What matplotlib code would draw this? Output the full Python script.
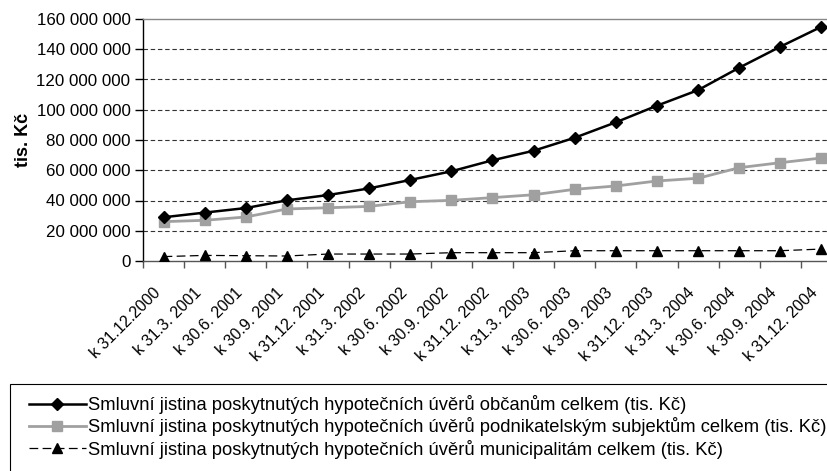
import matplotlib.pyplot as plt
from matplotlib.patches import Rectangle
from matplotlib.ticker import FuncFormatter, FixedLocator
from matplotlib.transforms import ScaledTranslation

plt.rcParams['font.family'] = ['Liberation Sans', 'DejaVu Sans']

# Data (tis. Kč)
dates = ['k 31.12.2000', 'k 31.3. 2001', 'k 30.6. 2001', 'k 30.9. 2001',
         'k 31.12. 2001', 'k 31.3. 2002', 'k 30.6. 2002', 'k 30.9. 2002',
         'k 31.12. 2002', 'k 31.3. 2003', 'k 30.6. 2003', 'k 30.9. 2003',
         'k 31.12. 2003', 'k 31.3. 2004', 'k 30.6. 2004', 'k 30.9. 2004',
         'k 31.12. 2004']
obcane = [28.9, 32.0, 35.0, 40.1, 43.6, 48.0, 53.6, 59.3, 66.6, 72.9,
          81.5, 91.7, 102.7, 113.0, 127.8, 141.7, 154.9]
podnikatele = [26.0, 26.9, 29.1, 34.4, 35.2, 36.1, 39.2, 40.1, 41.9, 43.8,
               47.4, 49.6, 52.9, 54.7, 61.7, 65.0, 68.1]
municipality = [2.9, 3.7, 3.5, 3.3, 4.6, 4.6, 4.6, 5.5, 5.5, 5.5,
                6.8, 6.8, 6.8, 6.8, 6.8, 6.8, 7.9]
labels = ['Smluvní jistina poskytnutých hypotečních úvěrů občanům celkem (tis. Kč)',
          'Smluvní jistina poskytnutých hypotečních úvěrů podnikatelským subjektům celkem (tis. Kč)',
          'Smluvní jistina poskytnutých hypotečních úvěrů municipalitám celkem (tis. Kč)']


def fmt(v, pos):
    return '{:,.0f}'.format(v * 1e6).replace(',', ' ')


def main():
    fig = plt.figure(figsize=(8.27, 4.71), dpi=100, facecolor='white')
    ax = fig.add_axes([143 / 827, 1 - 261 / 471, 699 / 827, 242 / 471])
    x = list(range(len(dates)))

    l1, = ax.plot(x, obcane, color='black', lw=1.8, marker='D', ms=6, zorder=4)
    l2, = ax.plot(x, podnikatele, color='#a0a0a0', lw=2, marker='s', ms=6.5,
                  zorder=3)
    l3, = ax.plot(x, municipality, color='black', lw=0.9, ls=(0, (7, 3.5)),
                  marker='^', ms=7.5, zorder=3)

    ax.set_xlim(-0.5, len(dates) - 0.5)
    ax.set_ylim(0, 160)
    ax.yaxis.set_major_locator(FixedLocator(range(0, 161, 20)))
    ax.yaxis.set_major_formatter(FuncFormatter(fmt))
    for g in range(20, 160, 20):
        ax.axhline(g, color='#333333', lw=0.8, ls=(0, (4, 2.5)), zorder=1)

    ax.set_xticks(x)
    ax.set_xticklabels(dates, rotation=45, ha='right', va='top',
                       rotation_mode='anchor', fontsize=11.5)
    ax.set_xticks([i - 0.5 for i in range(len(dates) + 1)], minor=True)
    ax.tick_params(axis='x', which='major', length=0, pad=0)
    ax.tick_params(axis='x', which='minor', length=5, width=1, color='#555555',
                   direction='out')
    ax.tick_params(axis='y', length=6, width=1, labelsize=12.2, pad=3)
    shift = ScaledTranslation(-11 / 100, -24 / 100, fig.dpi_scale_trans)
    for lab in ax.get_xticklabels():
        lab.set_transform(lab.get_transform() + shift)

    ax.spines['right'].set_visible(False)
    ax.spines['top'].set_color('#888888')
    ax.spines['bottom'].set_color('#555555')
    ax.spines['left'].set_color('black')
    for s in ax.spines.values():
        s.set_linewidth(1)

    ax.set_ylabel('tis. Kč', fontsize=13, fontweight='bold')
    ax.yaxis.set_label_coords(-111 / 699, 0.5)

    # legend box (runs past the right and bottom edge like the original)
    fig.patches.append(Rectangle((10 / 827, -0.05), 1.0, 1 - 384 / 471 + 0.05,
                                 transform=fig.transFigure, fill=False,
                                 edgecolor='black', lw=0.8))
    fig.legend([l1, l2, l3], labels, loc='upper left',
               bbox_to_anchor=(29 / 827, 1 - 395 / 471),
               fontsize=13.2, frameon=False, handlelength=3.1,
               handletextpad=0.12, labelspacing=0.18, borderaxespad=0,
               borderpad=0)

    fig.savefig('out.png', dpi=100, facecolor='white')


if __name__ == '__main__':
    main()
